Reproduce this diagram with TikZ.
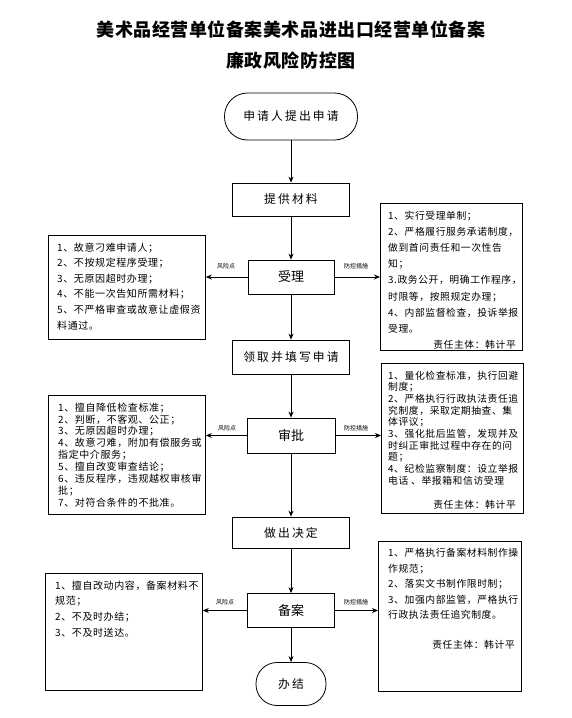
\documentclass[tikz,border=0pt]{standalone}
\usepackage{fontspec}
\usetikzlibrary{arrows.meta}
\newfontfamily\cjk{Noto Sans CJK SC}
\newfontfamily\cjksp[LetterSpace=6]{Noto Sans CJK SC}
\newfontfamily\cjkmid[LetterSpace=18]{Noto Sans CJK SC}
\newfontfamily\cjktitle[LetterSpace=3]{Noto Sans CJK SC}
\tikzset{
  flowbox/.style={draw, line width=0.8pt, minimum width=117pt, minimum height=33pt, inner sep=0pt,
    font=\cjkmid\fontsize{11.8}{13}\selectfont},
  keybox/.style={draw, line width=0.8pt, minimum width=87pt, minimum height=34pt, inner sep=0pt,
    font=\cjk\fontsize{13}{15}\selectfont},
  termbox/.style={draw, line width=0.8pt, rounded corners=21pt, inner sep=0pt,
    font=\cjkmid\fontsize{11.8}{13}\selectfont},
  sidebox/.style={draw, line width=0.8pt, anchor=north west, inner sep=0pt},
  sidetext/.style={anchor=north west, inner sep=0pt, align=left},
  resp/.style={anchor=east, inner sep=0pt, font=\cjksp\fontsize{9.8}{11}\selectfont},
  lbl/.style={inner sep=0pt, font=\cjk\fontsize{6}{7}\selectfont},
  flow/.style={line width=0.8pt, -{Stealth[length=6pt,width=5pt]}},
}
\begin{document}
\begin{tikzpicture}[x=1pt,y=-1pt]
\useasboundingbox (0,0) rectangle (572,718);
\fill[white] (0,0) rectangle (572,718);

% title
\node[inner sep=0pt, font=\cjktitle\bfseries\fontsize{18}{20}\selectfont] (t1) at (291,30) {美术品经营单位备案美术品进出口经营单位备案};
\node[inner sep=0pt, font=\cjktitle\bfseries\fontsize{18}{20}\selectfont] (t2) at (291,61) {廉政风险防控图};

% main flow
\node[termbox, minimum width=133pt, minimum height=47pt, rounded corners=23pt] (start) at (291,116.5) {申请人提出申请};
\node[flowbox] (mat) at (291,199.5) {提供材料};
\node[keybox, minimum width=86pt] (acc) at (291,277) {受理};
\node[flowbox, minimum height=34pt] (fill) at (291,357) {领取并填写申请};
\node[keybox, minimum width=88pt, minimum height=35pt] (appr) at (291,435.5) {审批};
\node[flowbox, minimum height=31pt] (dec) at (291,532.5) {做出决定};
\node[keybox] (rec) at (291,610.5) {备案};
\node[termbox, minimum width=70pt, minimum height=43pt] (fin) at (291,684) {办结};

\draw[flow] (start) -- (mat);
\draw[flow] (mat) -- (acc);
\draw[flow] (acc) -- (fill);
\draw[flow] (fill) -- (appr);
\draw[flow] (appr) -- (dec);
\draw[flow] (dec) -- (rec);
\draw[flow] (rec) -- (fin);

% side boxes
\node[sidebox, minimum width=157pt, minimum height=104pt] (L1) at (48,235) {};
\node[sidebox, minimum width=142pt, minimum height=147pt] (R1) at (380,203) {};
\node[sidebox, minimum width=157pt, minimum height=119pt] (L2) at (48,395) {};
\node[sidebox, minimum width=142pt, minimum height=150pt] (R2) at (381,363) {};
\node[sidebox, minimum width=157pt, minimum height=117pt] (L3) at (45,573) {};
\node[sidebox, minimum width=143pt, minimum height=150pt] (R3) at (378,541) {};

% side arrows
\draw[flow] (acc.west) -- (acc.west -| L1.east);
\draw[flow] (acc.east) -- (acc.east -| R1.west);
\draw[flow] (appr.west) -- (appr.west -| L2.east);
\draw[flow] (appr.east) -- (appr.east -| R2.west);
\draw[flow] (rec.west) -- (rec.west -| L3.east);
\draw[flow] (rec.east) -- (rec.east -| R3.west);

% labels
\node[lbl] (a1) at (226,266) {风险点};
\node[lbl] (b1) at (356,266) {防控措施};
\node[lbl] (a2) at (227,428) {风险点};
\node[lbl] (b2) at (356,428) {防控措施};
\node[lbl] (a3) at (225,602) {风险点};
\node[lbl] (b3) at (356,602) {防控措施};

% side texts
\node[sidetext, font=\cjksp\fontsize{10}{15.6}\selectfont] (L1t) at (57,242.5) {%
1、故意刁难申请人；\\
2、不按规定程序受理；\\
3、无原因超时办理；\\
4、不能一次告知所需材料；\\
5、不严格审查或故意让虚假资\\
料通过。};

\node[sidetext, font=\cjksp\fontsize{9.8}{16.2}\selectfont] (R1t) at (388,210.5) {%
1、实行受理单制；\\
2、严格履行服务承诺制度，\\
做到首问责任和一次性告\\
知；\\
3.政务公开，明确工作程序，\\
时限等，按照规定办理；\\
4、内部监督检查，投诉举报\\
受理。};
\node[resp] (R1r) at (516,345) {责任主体：韩计平};

\node[sidetext, font=\cjksp\fontsize{10}{11.9}\selectfont] (L2t) at (58,402.5) {%
1、擅自降低检查标准；\\
2、判断，不客观、公正；\\
3、无原因超时办理；\\
4、故意刁难，附加有偿服务或\\
指定中介服务；\\
5、擅自改变审查结论；\\
6、违反程序，违规越权审核审\\
批；\\
7、对符合条件的不批准。};

\node[sidetext, font=\cjksp\fontsize{9.8}{11.7}\selectfont] (R2t) at (388,370.5) {%
1、量化检查标准，执行回避\\
制度；\\
2、严格执行行政执法责任追\\
究制度，采取定期抽查、集\\
体评议；\\
3、强化批后监管，发现并及\\
时纠正审批过程中存在的问\\
题；\\
4、纪检监察制度：设立举报\\
电话 、举报箱和信访受理};
\node[resp] (R2r) at (516,505) {责任主体：韩计平};

\node[sidetext, font=\cjksp\fontsize{10}{15.7}\selectfont] (L3t) at (55,580.5) {%
1、擅自改动内容，备案材料不\\
规范；\\
2、不及时办结；\\
3、不及时送达。};

\node[sidetext, font=\cjksp\fontsize{9.8}{15.5}\selectfont] (R3t) at (388,548.5) {%
1、严格执行备案材料制作操\\
作规范；\\
2、落实文书制作限时制；\\
3、加强内部监管，严格执行\\
行政执法责任追究制度。};
\node[resp] (R3r) at (515,645) {责任主体：韩计平};
\end{tikzpicture}
\end{document}
